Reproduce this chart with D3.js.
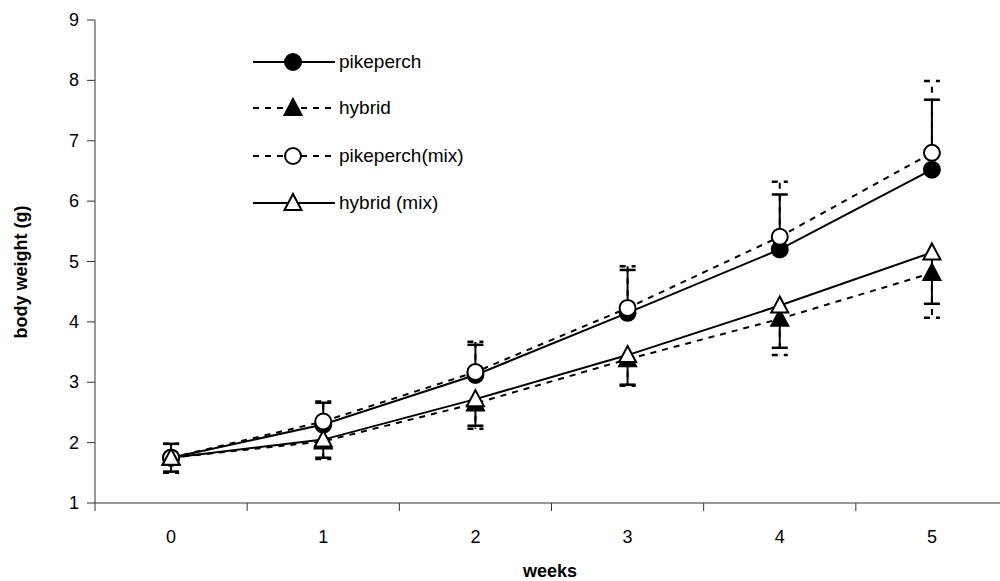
<!DOCTYPE html>
<html><head><meta charset="utf-8">
<script src="https://cdn.jsdelivr.net/npm/d3@7/dist/d3.min.js"></script>
<style>body{margin:0;background:#fff}svg{display:block}text{font-family:"Liberation Sans",Arial,sans-serif;fill:#000}</style>
</head><body><svg id="c" width="1000" height="581"></svg>
<script>
const weeks = ["0","1","2","3","4","5"];
const yTicks = [1,2,3,4,5,6,7,8,9];
const seriesNames = ["pikeperch","hybrid","pikeperch(mix)","hybrid (mix)"];
const pikeperch    = [1.75, 2.30, 3.12, 4.15, 5.20, 6.52];
const hybrid       = [1.75, 2.02, 2.65, 3.38, 4.05, 4.81];
const pikeperchMix = [1.75, 2.35, 3.17, 4.23, 5.41, 6.80];
const hybridMix    = [1.75, 2.05, 2.72, 3.45, 4.27, 5.15];
const pikeperchErr    = [0.23, 0.36, 0.50, 0.71, 0.91, 1.16];
const hybridErr       = [0.25, 0.29, 0.42, 0.44, 0.60, 0.74];
const pikeperchMixErr = [0.23, 0.33, 0.50, 0.69, 0.91, 1.19];
const hybridMixErr    = [0.23, 0.30, 0.44, 0.49, 0.70, 0.85];

const series = [
  {name: seriesNames[0], v: pikeperch,    e: pikeperchErr,    dir: 1,  dash: null, shape: "circle",   fill: "#000"},
  {name: seriesNames[1], v: hybrid,       e: hybridErr,       dir: -1, dash: "6,6", shape: "triangle", fill: "#000"},
  {name: seriesNames[2], v: pikeperchMix, e: pikeperchMixErr, dir: 1,  dash: "6,6", shape: "circle",   fill: "#fff"},
  {name: seriesNames[3], v: hybridMix,    e: hybridMixErr,    dir: -1, dash: null, shape: "triangle", fill: "#fff"}
];

const svg = d3.select("#c");
const x = d3.scaleBand().domain(weeks).range([95, 1008]).padding(0);
const y = d3.scaleLinear().domain([1, 9]).range([503, 20]);
const cx = d => x(d) + x.bandwidth()/2;

// axes
const xa = svg.append("g").attr("transform","translate(0,503)");
xa.append("line").attr("x1",95).attr("x2",1008).attr("stroke","#333");
const bounds = weeks.map(w => x(w)).concat([1008]);
xa.selectAll(".t").data(bounds).join("line").attr("x1",d=>d).attr("x2",d=>d).attr("y1",0).attr("y2",8).attr("stroke","#333");
xa.selectAll(".l").data(weeks).join("text").attr("x",d=>cx(d)).attr("y",40).attr("text-anchor","middle").style("font-size","18px").text(d=>d);

const ya = svg.append("g").attr("transform","translate(95,0)");
ya.append("line").attr("y1",20).attr("y2",503).attr("stroke","#333");
ya.selectAll(".t").data(yTicks).join("line").attr("x1",-8).attr("x2",0).attr("y1",d=>y(d)).attr("y2",d=>y(d)).attr("stroke","#333");
ya.selectAll(".l").data(yTicks).join("text").attr("x",-16).attr("y",d=>y(d)+6).attr("text-anchor","end").style("font-size","18px").text(d=>d);

svg.append("text").attr("x",550).attr("y",577).attr("text-anchor","middle").style("font-size","18px").style("font-weight","bold").text("weeks");
svg.append("text").attr("transform","translate(27,272) rotate(-90)").attr("text-anchor","middle").style("font-size","18px").style("font-weight","bold").text("body weight (g)");

const tri = "M0,-9L8.5,7L-8.5,7Z";
function marker(g, s, px, py){
  if (s.shape === "circle") g.append("circle").attr("cx",px).attr("cy",py).attr("r",8).attr("fill",s.fill).attr("stroke","#000").attr("stroke-width",2);
  else g.append("path").attr("d",tri).attr("transform",`translate(${px},${py})`).attr("fill",s.fill).attr("stroke","#000").attr("stroke-width",2).attr("stroke-linejoin","miter");
}

const line = d3.line().x((d,i)=>cx(weeks[i])).y(d=>y(d));
series.forEach(s => {
  const g = svg.append("g");
  s.v.forEach((v,i) => {
    const px = cx(weeks[i]), end = y(v + s.dir*s.e[i]);
    g.append("line").attr("x1",px).attr("x2",px).attr("y1",y(v)).attr("y2",end).attr("stroke","#000").attr("stroke-width",2).attr("stroke-dasharray",s.dash);
    g.append("line").attr("x1",px-8).attr("x2",px+8).attr("y1",end).attr("y2",end).attr("stroke","#000").attr("stroke-width",2.5).attr("stroke-dasharray",s.dash);
  });
});
series.forEach(s => {
  svg.append("path").attr("d",line(s.v)).attr("fill","none").attr("stroke","#000").attr("stroke-width",2).attr("stroke-dasharray",s.dash);
});
series.forEach(s => {
  const g = svg.append("g");
  s.v.forEach((v,i) => marker(g, s, cx(weeks[i]), y(v)));
});

const legY = [62, 108, 156, 203];
series.forEach((s,i) => {
  const g = svg.append("g");
  g.append("line").attr("x1",253).attr("x2",335).attr("y1",legY[i]).attr("y2",legY[i]).attr("stroke","#000").attr("stroke-width",2).attr("stroke-dasharray",s.dash);
  marker(g, s, 293, legY[i]);
  g.append("text").attr("x",339).attr("y",legY[i]+6).style("font-size","19px").text(s.name);
});
</script></body></html>
